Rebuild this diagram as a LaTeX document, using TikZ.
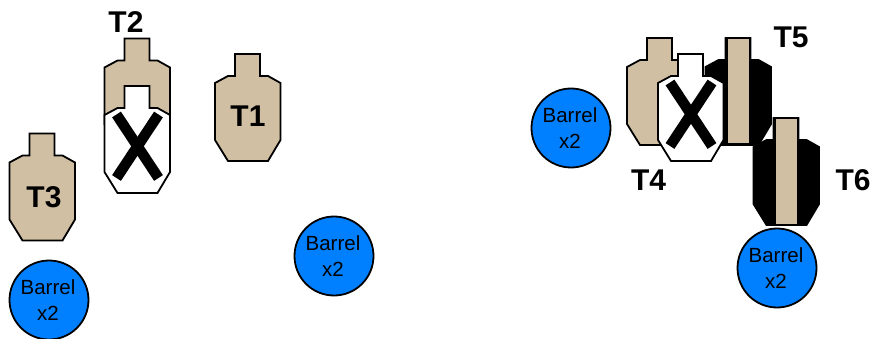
\documentclass[tikz,border=0pt]{standalone}
\usepackage{fontspec}
\setmainfont{Liberation Sans}
\definecolor{tan1}{HTML}{D0BFA3}
\definecolor{barrelblue}{HTML}{0080FF}
\tikzset{
  outline/.style={draw=black,line width=1.8pt,line join=miter},
  barrel/.style={circle,draw=black,line width=1.8pt,fill=barrelblue,minimum size=79pt,inner sep=0pt},
  barreltext/.style={inner sep=0pt,align=center,font=\fontsize{20.5}{26}\selectfont},
  tlabel/.style={font=\fontsize{30}{30}\selectfont\bfseries,inner sep=0pt,text=black},
  cross/.style={line width=10.5pt,draw=black},
  pics/silhouette/.style={code={
    \path[outline,#1] (20,0) -- (45,0) -- (45,22) -- (53,22) -- (65.5,29) -- (65.5,86) -- (53,107) -- (13,107) -- (0,86) -- (0,29) -- (13,22) -- (20,22) -- cycle;
  }},
  pics/neutral/.style={code={
    \path[outline,fill=white] (20,0) -- (45,0) -- (45,22) -- (53,22) -- (65.5,29) -- (65.5,86) -- (53,107) -- (13,107) -- (0,86) -- (0,29) -- (13,22) -- (20,22) -- cycle;
    \draw[cross] (12,28.5) -- (54,92);
    \draw[cross] (54,28.5) -- (12,92);
  }},
  pics/edgeon/.style={code={
    \path[outline,fill=black] (20,0) -- (45,0) -- (45,22) -- (53,22) -- (65.5,29) -- (65.5,86) -- (53,107) -- (13,107) -- (0,86) -- (0,29) -- (13,22) -- (20,22) -- cycle;
    \path[fill=tan1] (22,1.5) rectangle (43,105.5);
  }}
}
\begin{document}
\begin{tikzpicture}[x=1pt,y=-1pt]
\useasboundingbox (0,0) rectangle (874,339);
% left group
\pic at (215,54) {silhouette={fill=tan1}};
\pic at (104.5,38.5) {silhouette={fill=tan1}};
\pic at (104.5,86) {neutral};
\pic at (9.5,133.5) {silhouette={fill=tan1}};
% right group
\pic at (627,38) {silhouette={fill=tan1}};
\pic at (705.5,38) {edgeon};
\pic at (658,54) {neutral};
\pic at (753.5,118) {edgeon};
% labels
\node[tlabel] (t1) at (248,116) {T1};
\node[tlabel] (t2) at (126,22) {T2};
\node[tlabel] (t3) at (44,197) {T3};
\node[tlabel] (t4) at (648.5,180) {T4};
\node[tlabel] (t5) at (791,37) {T5};
\node[tlabel] (t6) at (853,180) {T6};
% barrels
\node[barrel] (b1) at (49,300) {};
\node[barrel] (b2) at (334,256) {};
\node[barrel] (b3) at (571,128) {};
\node[barrel] (b4) at (777,268) {};
\node[barreltext] (b1t) at ([xshift=-1pt,yshift=0pt]b1) {Barrel\\x2};
\node[barreltext] (b2t) at ([xshift=-1pt,yshift=0pt]b2) {Barrel\\x2};
\node[barreltext] (b3t) at ([xshift=-1pt,yshift=0pt]b3) {Barrel\\x2};
\node[barreltext] (b4t) at ([xshift=-1pt,yshift=0pt]b4) {Barrel\\x2};
\end{tikzpicture}
\end{document}
